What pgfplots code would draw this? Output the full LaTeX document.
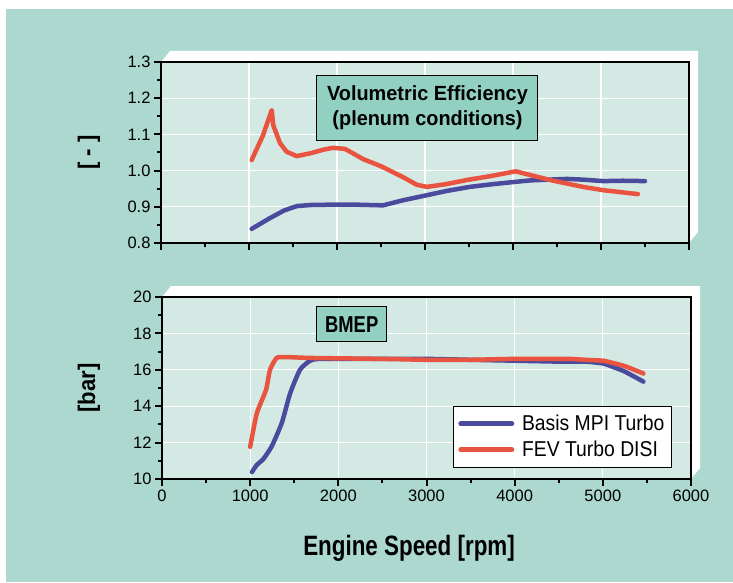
\documentclass[border=0pt]{standalone}
\usepackage{pgfplots}
\pgfplotsset{compat=1.18}
\usepackage{fontspec}
\setmainfont{Liberation Sans}
\newfontfamily\labfont[FakeStretch=0.8]{Liberation Sans Bold}
\newfontfamily\ylabfont[FakeStretch=0.92]{Liberation Sans Bold}
\newfontfamily\boxfont[FakeStretch=0.97]{Liberation Sans Bold}
\newfontfamily\legfont[FakeStretch=0.9]{Liberation Sans}

\definecolor{bgteal}{HTML}{ACD8CF}
\definecolor{plotbg}{HTML}{D4E9E3}
\definecolor{boxteal}{HTML}{92D1C2}
\definecolor{mpiblue}{HTML}{4B4B9E}
\definecolor{fevred}{HTML}{E8543F}

\pgfplotsset{
    enginestyle/.style={
        scale only axis,
        xmin=0, xmax=6000,
        xtick={0,1000,...,6000},
        minor x tick num=1,
        axis background/.style={fill=plotbg},
        grid=major,
        major grid style={white, line width=1.2pt},
        tick align=outside,
        tick pos=left,
        major tick length=7pt,
        minor tick length=4pt,
        tick style={black, line width=2pt},
        ticklabel style={font=\fontsize{16.5}{19}\selectfont},
        /pgf/number format/assume math mode=true,
        /pgf/number format/1000 sep={},
        ylabel style={font=\fontsize{24}{28}\selectfont\ylabfont},
    },
    curve/.style={line width=4.5pt, line join=round, line cap=round, #1},
}

\begin{document}
\begin{tikzpicture}
\fill[white] (0pt,0pt) rectangle (733pt,582pt);
\fill[bgteal] (6pt,0pt) rectangle (733pt,573pt);

% raised white frames behind the plot areas
\fill[white] (161pt,520pt) -- (170pt,531pt) -- (698pt,531pt) -- (698pt,350pt) -- (689pt,339pt) -- cycle;
\fill[white] (162pt,285pt) -- (171pt,296pt) -- (700pt,296pt) -- (700pt,114pt) -- (691pt,103pt) -- cycle;

% volumetric efficiency
\begin{axis}[
    enginestyle, name=ve,
    at={(161pt,339pt)}, anchor=south west,
    width=528pt, height=181pt,
    ymin=0.8, ymax=1.3,
    ytick={0.8,0.9,1.0,1.1,1.2,1.3},
    minor y tick num=1,
    xticklabels={},
    yticklabel style={/pgf/number format/.cd, fixed, fixed zerofill, precision=1},
    ylabel={[ - ]},
    ylabel style={at={(axis description cs:-0.1364,0.5)}, anchor=center},
]
\addplot[curve=mpiblue] coordinates {
    (1030,0.839) (1240,0.869) (1400,0.890) (1545,0.902) (1700,0.905)
    (1955,0.906) (2200,0.906) (2523,0.904) (2750,0.918) (3020,0.932)
    (3250,0.944) (3510,0.955) (3750,0.962) (4030,0.969) (4200,0.973)
    (4610,0.977) (4800,0.975) (5025,0.971) (5250,0.972) (5500,0.971)
};
\addplot[curve=fevred] coordinates {
    (1030,1.029) (1160,1.098) (1258,1.167) (1275,1.126) (1352,1.076)
    (1428,1.052) (1542,1.040) (1700,1.048) (1850,1.058) (1955,1.063)
    (2090,1.060) (2150,1.052) (2295,1.032) (2500,1.012) (2750,0.982)
    (2906,0.961) (3020,0.955) (3250,0.963) (3474,0.974) (3750,0.985)
    (4030,0.998) (4420,0.974) (4795,0.955) (5023,0.946) (5420,0.935)
};
\node[draw=black, line width=1pt, fill=boxteal, minimum width=221pt, minimum height=65pt,
      inner sep=0pt, align=center, font=\fontsize{20.5}{25}\selectfont\boxfont]
    at (rel axis cs:0.5047,0.7486) {Volumetric Efficiency\\(plenum conditions)};
\end{axis}
\draw[black, line width=2.2pt] (ve.south west) rectangle (ve.north east);

% BMEP
\begin{axis}[
    enginestyle, name=bmep,
    at={(162pt,103pt)}, anchor=south west,
    width=529pt, height=182pt,
    ymin=10, ymax=20,
    ytick={10,12,...,20},
    minor y tick num=1,
    ylabel={[bar]},
    ylabel style={at={(axis description cs:-0.138,0.5)}, anchor=center},
    xlabel={Engine Speed [rpm]},
    xlabel style={at={(axis description cs:0.467,-0.4176)}, anchor=base,
                  font=\fontsize{28}{32}\selectfont\labfont},
    legend style={at={(0.964,0.0604)}, anchor=south east, draw=black, line width=1.2pt,
                  fill=white, font=\fontsize{21.5}{25}\selectfont\legfont,
                  inner xsep=5pt, inner ysep=7pt, row sep=5pt, cells={anchor=west}},
    legend image code/.code={\draw[#1, line width=5pt] (0pt,0pt) -- (51pt,0pt);
                             \path (57pt,0pt);},
]
\addplot[curve=mpiblue, smooth, tension=0.35] coordinates {
    (1020,10.38) (1075,10.77) (1150,11.10) (1245,11.80) (1360,13.10)
    (1453,14.70) (1565,16.00) (1680,16.50) (1800,16.60) (2500,16.60)
    (3000,16.60) (3500,16.55) (4000,16.50) (4500,16.45) (4800,16.45)
    (5000,16.35) (5120,16.15) (5250,15.90) (5460,15.35)
};
\addplot[curve=fevred, smooth, tension=0.35] coordinates {
    (1000,11.77) (1075,13.60) (1180,14.90) (1225,16.00) (1300,16.65)
    (1400,16.70) (1700,16.65) (2500,16.60) (3000,16.55) (3500,16.55)
    (4000,16.60) (4600,16.60) (4800,16.55) (5000,16.50) (5120,16.37)
    (5250,16.20) (5460,15.80)
};
\legend{Basis MPI Turbo, FEV Turbo DISI}
\node[draw=black, line width=1pt, fill=boxteal, minimum width=70pt, minimum height=35pt,
      inner sep=0pt, font=\fontsize{23}{26}\selectfont\labfont]
    at (rel axis cs:0.3586,0.849) {BMEP};
\end{axis}
\draw[black, line width=2.2pt] (bmep.south west) rectangle (bmep.north east);

\pgfresetboundingbox
\useasboundingbox (0pt,0pt) rectangle (733pt,582pt);
\end{tikzpicture}
\end{document}
